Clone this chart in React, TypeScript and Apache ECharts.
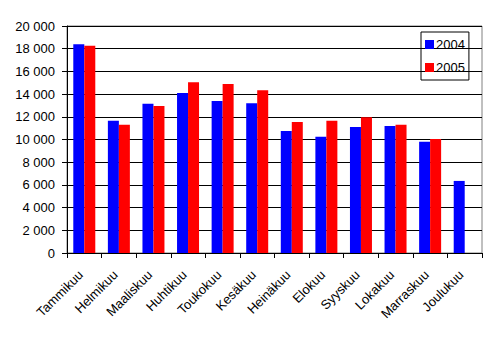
import React, { useEffect, useRef } from "react";
import * as echarts from "echarts";

const months = ["Tammikuu", "Helmikuu", "Maaliskuu", "Huhtikuu", "Toukokuu", "Kesäkuu", "Heinäkuu", "Elokuu", "Syyskuu", "Lokakuu", "Marraskuu", "Joulukuu"];
const values2004 = [18400, 11650, 13150, 14100, 13400, 13200, 10750, 10250, 11100, 11200, 9800, 6350];
const values2005: (number | null)[] = [18250, 11300, 12950, 15050, 14900, 14350, 11550, 11650, 11950, 11300, 10050, null];

const fmt = (v: number) => {
  const s = String(Math.round(v));
  return s.replace(/\B(?=(\d{3})+(?!\d))/g, " ");
};

export default function App() {
  const ref = useRef<HTMLDivElement>(null);
  useEffect(() => {
    const chart = echarts.init(ref.current!, undefined, { renderer: "svg" });
    const font = "Liberation Sans, Arial, sans-serif";
    chart.setOption({
      animation: false,
      backgroundColor: "#ffffff",
      textStyle: { fontFamily: font },
      grid: {
        left: 67,
        top: 26,
        width: 415,
        height: 227,
        show: true,
        borderColor: "#808080",
        borderWidth: 1,
        backgroundColor: "transparent",
      },
      legend: {
        left: 421,
        top: 32,
        orient: "vertical",
        data: ["2004", "2005"],
        icon: "rect",
        itemWidth: 9,
        itemHeight: 9,
        itemGap: 10,
        padding: [6, 4, 6, 4],
        borderColor: "#000000",
        borderWidth: 1,
        textStyle: { fontSize: 13, color: "#000", fontFamily: font, padding: [0, 0, 0, -3] },
      },
      xAxis: {
        type: "category",
        data: months,
        axisLine: { lineStyle: { color: "#000", width: 1 } },
        axisTick: { show: true, length: 5, lineStyle: { color: "#000" } },
        axisLabel: { rotate: 45, fontSize: 13, color: "#000", margin: 16, interval: 0, fontFamily: font, padding: [0, 5, 0, 0] },
        splitLine: { show: false },
      },
      yAxis: {
        type: "value",
        min: 0,
        max: 20000,
        interval: 2000,
        axisLine: { show: true, lineStyle: { color: "#000", width: 1 } },
        axisTick: { show: true, length: 5, lineStyle: { color: "#000" } },
        axisLabel: { fontSize: 13, color: "#000", margin: 12, formatter: fmt, fontFamily: font },
        splitLine: { show: true, lineStyle: { color: "#000", width: 1 } },
      },
      series: [
        {
          name: "2004",
          type: "bar",
          data: values2004,
          barWidth: 11,
          barGap: "0%",
          itemStyle: { color: "#0000ff" },
        },
        {
          name: "2005",
          type: "bar",
          data: values2005,
          barWidth: 11,
          barGap: "0%",
          itemStyle: { color: "#ff0000" },
        },
      ],
    });
    return () => chart.dispose();
  }, []);
  return <div ref={ref} style={{ position: "fixed", left: 0, top: 0, width: 497, height: 338 }} />;
}
